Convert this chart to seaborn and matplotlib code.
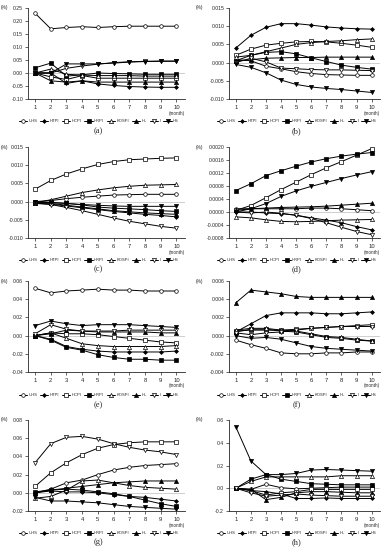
import numpy as np
import pandas as pd
from matplotlib import pyplot as plt
import seaborn as sns

sns.set_style("ticks")
plt.rcParams['font.family'] = ['Liberation Sans', 'DejaVu Sans']

months = list(range(1, 11))
series = ['UHS', 'HTPI', 'HCPI', 'HRPI', 'KOSPI', 'HL', 'I', 'HS']
panel_labels = ['(a)', '(b)', '(c)', '(d)', '(e)', '(f)', '(g)', '(h)']

# responses, one dict per panel
resp_a = {
    'UHS': [0.23, 0.17, 0.175, 0.178, 0.175, 0.178, 0.18, 0.18, 0.18, 0.18],
    'HTPI': [0.0, 0.0, -0.04, -0.03, -0.042, -0.048, -0.052, -0.054, -0.055, -0.055],
    'HCPI': [0.0, -0.015, -0.025, -0.01, -0.02, -0.02, -0.02, -0.02, -0.02, -0.02],
    'HRPI': [0.02, 0.038, -0.012, -0.007, 0.0, -0.002, -0.003, -0.005, -0.005, -0.005],
    'KOSPI': [0.0, 0.015, -0.005, -0.008, -0.01, -0.01, -0.01, -0.012, -0.012, -0.012],
    'HL': [0.0, -0.03, -0.035, -0.03, -0.035, -0.035, -0.035, -0.035, -0.035, -0.035],
    'I': [0.0, 0.0, 0.018, 0.027, 0.034, 0.04, 0.043, 0.045, 0.046, 0.046],
    'HS': [0.0, 0.0, 0.035, 0.035, 0.035, 0.038, 0.042, 0.044, 0.045, 0.045],
}
resp_b = {
    'UHS': [0.0008, 0.0005, -0.001, -0.0017, -0.0025, -0.003, -0.0033, -0.0034, -0.0035, -0.0035],
    'HTPI': [0.004, 0.0075, 0.0097, 0.0107, 0.0107, 0.0103, 0.0098, 0.0095, 0.0093, 0.0092],
    'HCPI': [0.002, 0.0037, 0.0048, 0.0053, 0.0057, 0.0058, 0.0057, 0.0053, 0.0048, 0.0042],
    'HRPI': [0.0005, 0.002, 0.0028, 0.003, 0.0024, 0.0013, 0.0003, -0.0007, -0.0013, -0.0018],
    'KOSPI': [0.0015, 0.002, 0.003, 0.004, 0.005, 0.0055, 0.0058, 0.006, 0.0063, 0.0065],
    'HL': [0.0005, 0.0008, 0.0012, 0.0013, 0.0014, 0.0014, 0.0015, 0.0015, 0.0015, 0.0015],
    'I': [0.0, 0.0012, 0.0002, -0.0015, -0.0017, -0.0019, -0.002, -0.002, -0.0021, -0.0022],
    'HS': [-0.0005, -0.0013, -0.0028, -0.0048, -0.006, -0.0067, -0.0071, -0.0074, -0.0078, -0.0082],
}
resp_c = {
    'UHS': [0.0, 0.0003, 0.0008, 0.0012, 0.0015, 0.0018, 0.0019, 0.002, 0.002, 0.002],
    'HTPI': [-0.0004, -0.0007, -0.0012, -0.0017, -0.0022, -0.0027, -0.0031, -0.0035, -0.0038, -0.0042],
    'HCPI': [0.0034, 0.0058, 0.0076, 0.009, 0.0102, 0.011, 0.0115, 0.0117, 0.0119, 0.012],
    'HRPI': [-0.0002, -0.0003, -0.0005, -0.0009, -0.0015, -0.0018, -0.002, -0.0022, -0.0025, -0.0027],
    'KOSPI': [-0.0003, 0.0005, 0.0015, 0.0025, 0.0032, 0.0038, 0.0042, 0.0045, 0.0046, 0.0047],
    'HL': [-0.0003, -0.0005, -0.001, -0.0015, -0.002, -0.0025, -0.0028, -0.0031, -0.0033, -0.0035],
    'I': [-0.0005, -0.0008, -0.0016, -0.0025, -0.0035, -0.0045, -0.0054, -0.0061, -0.0068, -0.0073],
    'HS': [0.0, -0.0002, -0.0005, -0.0008, -0.001, -0.0012, -0.0013, -0.0013, -0.0013, -0.0013],
}
resp_d = {
    'UHS': [0.0001, 0.0001, 0.0001, 0.0001, 0.0001, 0.00012, 0.00012, 0.0001, 0.00007, 0.00004],
    'HTPI': [0.0, 0.0, -0.00003, -0.00005, -0.0001, -0.00018, -0.00025, -0.00033, -0.00045, -0.00055],
    'HCPI': [0.00005, 0.0002, 0.00044, 0.00069, 0.00092, 0.00115, 0.00136, 0.00155, 0.00175, 0.00195],
    'HRPI': [0.00066, 0.00087, 0.00112, 0.00127, 0.00141, 0.00154, 0.00164, 0.00172, 0.00178, 0.00183],
    'KOSPI': [-0.00015, -0.00018, -0.00024, -0.00029, -0.0003, -0.00029, -0.00027, -0.00025, -0.00024, -0.00023],
    'HL': [0.00005, 0.0001, 0.00012, 0.00014, 0.00015, 0.00016, 0.00018, 0.00021, 0.00024, 0.00027],
    'I': [0.0, -0.00003, 0.0, -0.00004, -0.0001, -0.0002, -0.00033, -0.00047, -0.0006, -0.0007],
    'HS': [0.0, 0.0001, 0.00026, 0.00048, 0.00065, 0.00079, 0.00091, 0.00103, 0.00114, 0.00124],
}
resp_e = {
    'UHS': [0.052, 0.047, 0.049, 0.05, 0.051, 0.05, 0.05, 0.049, 0.049, 0.049],
    'HTPI': [0.0, -0.004, -0.012, -0.015, -0.017, -0.018, -0.018, -0.018, -0.018, -0.017],
    'HCPI': [0.0, 0.003, 0.002, 0.002, 0.001, -0.001, -0.003, -0.005, -0.007, -0.008],
    'HRPI': [0.0, -0.005, -0.013, -0.016, -0.021, -0.024, -0.026, -0.026, -0.027, -0.027],
    'KOSPI': [0.0, 0.003, -0.003, -0.009, -0.011, -0.012, -0.012, -0.012, -0.012, -0.011],
    'HL': [0.0, 0.002, 0.006, 0.005, 0.004, 0.004, 0.004, 0.004, 0.003, 0.003],
    'I': [0.002, 0.012, 0.007, 0.005, 0.005, 0.005, 0.006, 0.006, 0.006, 0.006],
    'HS': [0.011, 0.016, 0.013, 0.011, 0.012, 0.012, 0.012, 0.011, 0.01, 0.009],
}
resp_f = {
    'UHS': [-0.0005, -0.001, -0.0014, -0.0019, -0.002, -0.002, -0.0019, -0.0019, -0.0018, -0.0018],
    'HTPI': [0.0004, 0.0013, 0.0022, 0.0025, 0.0025, 0.0025, 0.0024, 0.0024, 0.0025, 0.0026],
    'HCPI': [0.0005, 0.0006, 0.0006, 0.0006, 0.0007, 0.0008, 0.0009, 0.001, 0.0011, 0.0012],
    'HRPI': [0.0004, 0.0007, 0.0007, 0.0005, 0.0004, 0.0001, -0.0002, -0.0003, -0.0005, -0.0006],
    'KOSPI': [0.0006, 0.0008, 0.0008, 0.0006, 0.0005, 0.0002, -0.0001, -0.0002, -0.0004, -0.0006],
    'HL': [0.0036, 0.005, 0.0048, 0.0046, 0.0043, 0.0042, 0.0042, 0.0042, 0.0042, 0.0042],
    'I': [0.0003, 0.0001, 0.0003, 0.0004, 0.0006, 0.0008, 0.0009, 0.001, 0.001, 0.001],
    'HS': [0.0, -0.0003, -0.0002, -0.0004, -0.0008, -0.0012, -0.0014, -0.0015, -0.0016, -0.0017],
}
resp_g = {
    'UHS': [0.0, 0.004, 0.011, 0.014, 0.02, 0.025, 0.028, 0.03, 0.031, 0.032],
    'HTPI': [0.0, 0.002, 0.001, 0.001, 0.0, -0.002, -0.004, -0.005, -0.007, -0.009],
    'HCPI': [0.007, 0.022, 0.033, 0.042, 0.049, 0.053, 0.055, 0.056, 0.056, 0.056],
    'HRPI': [0.001, 0.003, 0.004, 0.003, 0.001, -0.001, -0.004, -0.008, -0.012, -0.015],
    'KOSPI': [-0.006, -0.004, 0.003, 0.013, 0.014, 0.011, 0.008, 0.006, 0.005, 0.004],
    'HL': [0.0, 0.003, 0.005, 0.007, 0.009, 0.011, 0.012, 0.013, 0.013, 0.013],
    'I': [0.033, 0.054, 0.061, 0.062, 0.059, 0.054, 0.05, 0.047, 0.045, 0.042],
    'HS': [-0.005, -0.009, -0.009, -0.01, -0.011, -0.013, -0.015, -0.016, -0.017, -0.018],
}
resp_h = {
    'UHS': [0.0, -0.01, 0.035, 0.005, -0.005, 0.0, 0.005, 0.01, 0.01, 0.01],
    'HTPI': [0.0, -0.02, -0.03, -0.05, -0.09, -0.09, -0.085, -0.09, -0.09, -0.09],
    'HCPI': [0.0, -0.02, -0.06, -0.04, -0.03, -0.01, -0.01, -0.01, -0.01, -0.01],
    'HRPI': [0.0, 0.08, 0.12, 0.08, 0.06, 0.04, 0.035, 0.03, 0.03, 0.03],
    'KOSPI': [0.0, 0.06, 0.1, 0.1, 0.1, 0.1, 0.1, 0.11, 0.11, 0.11],
    'HL': [0.0, -0.01, -0.1, -0.08, -0.04, -0.03, -0.03, -0.035, -0.04, -0.04],
    'I': [0.0, -0.04, -0.07, -0.06, -0.05, -0.06, -0.065, -0.07, -0.07, -0.07],
    'HS': [0.54, 0.24, 0.12, 0.12, 0.13, 0.16, 0.165, 0.16, 0.155, 0.15],
}
panels = [resp_a, resp_b, resp_c, resp_d, resp_e, resp_f, resp_g, resp_h]

y_ticks = [
    [-0.10, -0.05, 0.0, 0.05, 0.10, 0.15, 0.20, 0.25],
    [-0.010, -0.005, 0.0, 0.005, 0.010, 0.015],
    [-0.010, -0.005, 0.0, 0.005, 0.010, 0.015],
    [-0.0008, -0.0004, 0.0, 0.0004, 0.0008, 0.0012, 0.0016, 0.0020],
    [-0.04, -0.02, 0.0, 0.02, 0.04, 0.06],
    [-0.004, -0.002, 0.0, 0.002, 0.004, 0.006],
    [-0.02, 0.0, 0.02, 0.04, 0.06, 0.08],
    [-0.2, 0.0, 0.2, 0.4, 0.6],
]
y_fmt = ['%.2f', '%.3f', '%.3f', '%.4f', '%.2f', '%.3f', '%.2f', '%.1f']

# marker, filled?, size
styles = {
    'UHS': ('o', False, 2.6),
    'HTPI': ('D', True, 2.0),
    'HCPI': ('s', False, 3.4),
    'HRPI': ('s', True, 3.4),
    'KOSPI': ('^', False, 3.0),
    'HL': ('^', True, 3.0),
    'I': ('v', False, 3.0),
    'HS': ('v', True, 3.0),
}

W, H = 390, 550
fig = plt.figure(figsize=(3.9, 5.5), dpi=100)
col_x = [(28, 185), (229, 380)]
pct_x = [1, 196]
row_y = [(8, 99), (147, 238), (281, 372), (420, 511)]
legend_y = [121, 260, 395, 533]
label_y = [131, 269, 405, 542]

for i, data in enumerate(panels):
    r, c = divmod(i, 2)
    x0, x1 = col_x[c]
    t, b = row_y[r]
    ax = fig.add_axes([x0 / W, 1 - b / H, (x1 - x0) / W, (b - t) / H])
    ax.axhline(0, color='#c8c8c8', lw=0.6, zorder=0)
    for name in series:
        m, filled, ms = styles[name]
        df = pd.DataFrame({'month': months, 'value': data[name]})
        sns.lineplot(data=df, x='month', y='value', ax=ax, color='black',
                     lw=0.7, marker=m, markersize=ms, markeredgewidth=0.5,
                     markeredgecolor='black',
                     markerfacecolor='black' if filled else 'white',
                     label=name)
    ax.set_xlim(0.55, 10.55)
    ax.set_ylim(y_ticks[i][0], y_ticks[i][-1])
    ax.set_xticks(months)
    ax.set_yticks(y_ticks[i])
    ax.set_yticklabels([y_fmt[i] % v for v in y_ticks[i]])
    ax.set_xlabel('')
    ax.set_ylabel('')
    ax.tick_params(axis='y', labelsize=3.7, length=2, width=0.5, pad=1.5)
    ax.tick_params(axis='x', labelsize=4.2, length=2, width=0.5, pad=2)
    for s in ['left', 'bottom']:
        ax.spines[s].set_linewidth(0.6)
    sns.despine(ax=ax)
    fig.text(pct_x[c] / W, 1 - t / H, '(%)', fontsize=3.5,
             ha='left', va='center')
    fig.text(x1 / W, 1 - (b + 14) / H, '(month)', fontsize=3.3,
             ha='right', va='center')
    leg = ax.legend(loc='center', ncol=8,
                    frameon=False, fontsize=3, handlelength=2.0,
                    columnspacing=0.7, handletextpad=0.3, borderaxespad=0)
    leg.set_bbox_to_anchor(((x0 + x1) / 2 / W - 0.02, 1 - legend_y[r] / H),
                           transform=fig.transFigure)
    fig.text(((x0 + x1) / 2 - 8) / W, 1 - label_y[r] / H, panel_labels[i],
             fontsize=6, ha='center', va='center',
             family=['Liberation Serif', 'DejaVu Serif'])

fig.savefig("out.png", dpi=100)
